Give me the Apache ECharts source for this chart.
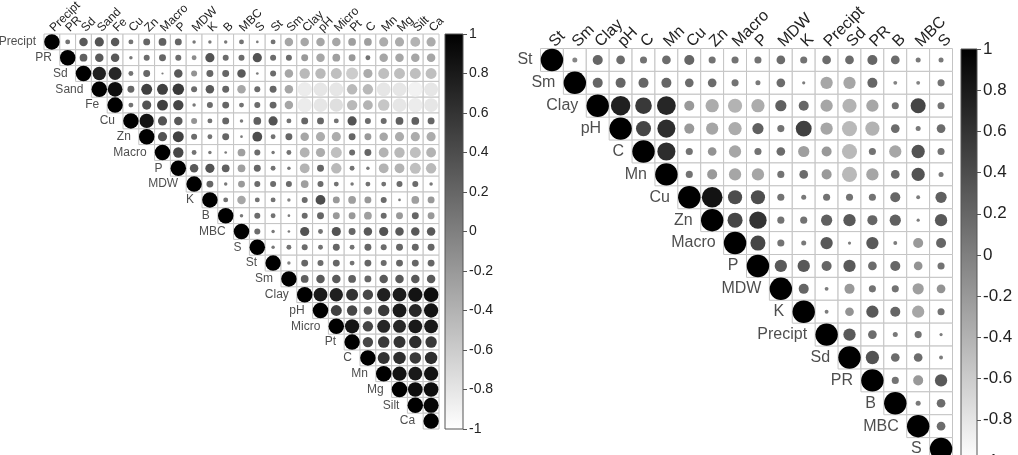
<!DOCTYPE html>
<html>
<head>
<meta charset="utf-8">
<title>Correlation matrices</title>
<script src="https://cdn.jsdelivr.net/npm/echarts@6/dist/echarts.min.js"></script>
<style>
  html, body { margin: 0; padding: 0; background: #fff; }
  #chart { width: 1018px; height: 455px; }
</style>
</head>
<body>
<div id="chart"></div>
<script>
// left matrix: variable order and upper-triangle rows (row i starts at the diagonal)
const leftVars = ['Precipt', 'PR', 'Sd', 'Sand', 'Fe', 'Cu', 'Zn', 'Macro', 'P', 'MDW', 'K', 'B', 'MBC',
  'S', 'St', 'Sm', 'Clay', 'pH', 'Micro', 'Pt', 'C', 'Mn', 'Mg', 'Silt', 'Ca'];
const leftCorr = [
  [1, 0.1, 0.3, 0.35, 0.3, 0.1, 0.2, 0.25, 0.2, 0.05, 0.05, 0.05, 0.1, 0.03, 0.1, -0.3, -0.3, -0.3, -0.3, -0.25, -0.25, -0.35, -0.35, -0.4, -0.35],
  [1, 0.25, 0.3, 0.3, 0.05, 0.15, 0.2, 0.15, -0.1, 0.35, 0.15, 0.15, 0.35, 0.15, 0.15, -0.2, -0.3, -0.25, -0.2, 0.1, -0.3, -0.3, -0.3, -0.3],
  [1, 0.75, 0.7, 0.1, 0.2, 0.02, 0.3, -0.15, 0.2, 0.2, 0.3, 0.03, 0.15, -0.3, -0.45, -0.45, -0.5, -0.6, -0.35, -0.5, -0.5, -0.5, -0.5],
  [1, 0.9, 0.2, 0.5, 0.5, 0.55, 0.15, 0.3, 0.2, -0.3, 0.15, 0.2, -0.3, -0.85, -0.8, -0.8, -0.45, -0.45, -0.8, -0.8, -0.9, -0.8],
  [1, 0.1, 0.35, 0.5, 0.45, 0.05, 0.15, 0.2, 0.1, 0.15, 0.2, -0.3, -0.85, -0.8, -0.75, -0.45, -0.4, -0.55, -0.8, -0.85, -0.8],
  [1, 0.85, 0.35, 0.3, -0.15, 0.1, 0.2, 0.05, 0.25, 0.35, 0.1, 0.2, 0.2, 0.1, 0.35, 0.15, 0.15, 0.25, 0.25, 0.2],
  [1, 0.35, 0.5, 0.15, 0.1, 0.2, 0.03, 0.4, 0.1, 0.2, -0.3, -0.35, -0.35, 0.2, -0.2, -0.3, -0.35, -0.35, -0.35],
  [1, 0.45, 0.1, 0.05, 0.03, -0.25, 0.15, 0.05, 0.1, -0.4, -0.35, -0.5, 0.15, 0.2, -0.4, -0.45, -0.5, -0.4],
  [1, 0.3, 0.35, 0.25, -0.25, 0.2, 0.1, 0.05, -0.4, 0.2, -0.45, 0.1, 0.05, -0.4, -0.4, -0.5, -0.45],
  [1, 0.2, 0.05, -0.2, 0.15, 0.15, 0.15, -0.25, 0.15, 0.1, 0.05, 0.1, 0.1, 0.15, 0.15, 0.05],
  [1, 0.1, -0.3, 0.1, 0.1, -0.05, 0.15, 0.4, -0.2, -0.25, -0.2, 0.15, 0.03, -0.25, -0.2],
  [1, 0.05, 0.15, 0.1, 0.03, 0.15, 0.2, -0.2, -0.2, -0.25, 0.15, -0.2, 0.2, -0.2],
  [1, 0.15, 0.05, 0.03, 0.35, 0.1, 0.35, 0.2, 0.3, 0.35, 0.3, 0.3, 0.3],
  [1, 0.05, 0.1, 0.15, 0.1, 0.2, 0.1, 0.2, 0.15, 0.2, 0.2, 0.2],
  [1, -0.05, 0.2, 0.15, 0.2, 0.1, 0.2, 0.15, 0.2, 0.2, 0.2],
  [1, 0.25, 0.3, 0.3, 0.25, 0.2, 0.3, 0.3, 0.3, 0.3],
  [1, 0.8, 0.75, 0.6, 0.45, 0.75, 0.8, 0.85, 0.9],
  [1, 0.5, 0.45, 0.3, 0.55, 0.8, 0.7, 0.85],
  [1, 0.85, 0.45, 0.7, 0.7, 0.8, 0.8],
  [1, 0.45, 0.55, 0.6, 0.65, 0.55],
  [1, 0.6, 0.65, 0.55, 0.65],
  [1, 0.85, 0.8, 0.85],
  [1, 0.9, 0.9],
  [1, 0.95],
  [1]
];

// right matrix
const rightVars = ['St', 'Sm', 'Clay', 'pH', 'C', 'Mn', 'Cu', 'Zn', 'Macro', 'P', 'MDW', 'K', 'Precipt',
  'Sd', 'PR', 'B', 'MBC', 'S'];
const rightCorr = [
  [1, -0.05, 0.2, 0.15, 0.1, 0.15, 0.2, 0.1, 0.1, 0.1, 0.15, 0.1, 0.15, 0.15, 0.2, 0.15, 0.05, 0.05],
  [1, 0.2, 0.2, 0.2, 0.2, 0.15, 0.15, 0.1, 0.05, 0.15, 0.02, -0.3, -0.3, 0.2, -0.03, -0.03, 0.1],
  [1, 0.75, 0.55, 0.7, -0.2, -0.35, -0.4, -0.35, 0.25, 0.2, -0.3, -0.4, -0.3, 0.1, 0.45, 0.1],
  [1, 0.45, 0.65, -0.2, -0.3, -0.35, 0.25, 0.1, 0.5, -0.3, -0.45, -0.4, 0.15, 0.05, 0.15],
  [1, 0.65, 0.1, -0.15, -0.3, 0.1, 0.15, -0.25, -0.2, -0.45, 0.1, -0.3, 0.35, 0.1],
  [1, 0.1, -0.2, -0.3, -0.3, 0.1, 0.15, -0.2, -0.45, -0.3, 0.15, 0.35, 0.05],
  [1, 0.85, 0.4, 0.4, 0.1, 0.05, 0.1, 0.1, 0.1, 0.2, 0.03, 0.25],
  [1, 0.45, 0.6, 0.1, 0.1, 0.25, 0.3, 0.2, 0.25, 0.02, 0.3],
  [1, 0.45, 0.1, 0.05, 0.3, 0.02, 0.3, 0.03, -0.2, 0.2],
  [1, 0.3, 0.3, 0.2, 0.3, 0.15, 0.2, -0.15, 0.1],
  [1, 0.2, 0.03, -0.2, 0.1, 0.1, -0.25, -0.15],
  [1, 0.03, -0.15, 0.3, 0.2, -0.3, 0.1],
  [1, 0.3, 0.15, 0.05, 0.1, 0.02],
  [1, 0.35, 0.15, 0.15, 0.03],
  [1, 0.1, -0.2, 0.3],
  [1, 0.05, 0.15],
  [1, 0.15],
  [1]
];

// colour legend range and its ticks
const legendRange = [-1, 1];
const legendStep = 0.2;

// layout
const leftBox = { left: 44, top: 34, size: 395 };
const rightBox = { left: 540.5, top: 48.5, size: 412 };
const leftCell = leftBox.size / leftVars.length;
const rightCell = rightBox.size / rightVars.length;
const FONT = '"Liberation Sans", Arial, Helvetica, sans-serif';

function grayOf(r) {
  const v = Math.round(255 * (1 - r) / 2);
  return 'rgb(' + v + ',' + v + ',' + v + ')';
}

function toPoints(corr) {
  const pts = [];
  corr.forEach(function (row, i) {
    row.forEach(function (r, k) {
      pts.push([i + k, i, r]);
    });
  });
  return pts;
}

function renderCell(params, api) {
  const p = api.coord([api.value(0), api.value(1)]);
  const s = api.size([1, 1]);
  return {
    type: 'rect',
    shape: { x: p[0] - s[0] / 2, y: p[1] - s[1] / 2, width: s[0], height: s[1] },
    style: { fill: '#fff', stroke: '#c4c4c4', lineWidth: 1 }
  };
}

function renderLegend(params, api) {
  const top = api.coord([0, api.value(1)]);
  const bottom = api.coord([0, api.value(0)]);
  const w = api.size([1, 0])[0];
  return {
    type: 'rect',
    shape: { x: top[0] - w / 2, y: top[1], width: w, height: bottom[1] - top[1] },
    style: {
      fill: new echarts.graphic.LinearGradient(0, 0, 0, 1, [
        { offset: 0, color: '#000' },
        { offset: 1, color: '#fff' }
      ]),
      stroke: '#555',
      lineWidth: 1
    }
  };
}

function matrixSeries(vars, corr, cell, axisIdx, fontSize) {
  const pts = toPoints(corr);
  return [
    {
      type: 'custom',
      xAxisIndex: axisIdx, yAxisIndex: axisIdx,
      renderItem: renderCell,
      data: pts,
      silent: true,
      z: 1
    },
    {
      type: 'scatter',
      xAxisIndex: axisIdx, yAxisIndex: axisIdx,
      data: pts,
      symbol: 'circle',
      symbolSize: function (val) { return cell * 0.98 * Math.sqrt(Math.abs(val[2])); },
      itemStyle: { color: function (p) { return grayOf(p.value[2]); }, opacity: 1 },
      silent: true,
      z: 2
    },
    {
      type: 'scatter',
      xAxisIndex: axisIdx, yAxisIndex: axisIdx,
      data: vars.map(function (n, i) { return { name: n, value: [i, i] }; }),
      symbolSize: 0,
      label: {
        show: true,
        position: 'left',
        distance: cell / 2 + 8,
        formatter: '{b}',
        fontFamily: FONT,
        fontSize: fontSize,
        color: '#222'
      },
      silent: true,
      z: 3
    }
  ];
}

function matrixX(vars, gridIdx, fontSize) {
  return {
    type: 'category', gridIndex: gridIdx, data: vars, position: 'top',
    boundaryGap: true,
    axisLine: { show: false }, axisTick: { show: false }, splitLine: { show: false },
    axisLabel: {
      interval: 0, rotate: -45, margin: 4,
      fontFamily: FONT, fontSize: fontSize, color: '#222'
    }
  };
}

function matrixY(vars, gridIdx) {
  return { type: 'category', gridIndex: gridIdx, data: vars, inverse: true, show: false };
}

function legendX(gridIdx) {
  return { type: 'category', gridIndex: gridIdx, data: [''], show: false };
}

function legendY(gridIdx, fontSize) {
  return {
    type: 'value', gridIndex: gridIdx, position: 'right',
    min: legendRange[0], max: legendRange[1], interval: legendStep,
    axisLine: { show: false },
    axisTick: { show: true, inside: false, length: 4, lineStyle: { color: '#555' } },
    splitLine: { show: false },
    axisLabel: { margin: 6, fontFamily: FONT, fontSize: fontSize, color: '#222' }
  };
}

const chart = echarts.init(document.getElementById('chart'), null, { renderer: 'canvas' });

const option = {
  backgroundColor: '#fff',
  animation: false,
  grid: [
    { left: leftBox.left, top: leftBox.top, width: leftBox.size, height: leftBox.size, containLabel: false, outerBoundsMode: 'none' },
    { left: 445, top: leftBox.top, width: 18, height: leftBox.size, containLabel: false, outerBoundsMode: 'none' },
    { left: rightBox.left, top: rightBox.top, width: rightBox.size, height: rightBox.size, containLabel: false, outerBoundsMode: 'none' },
    { left: 961, top: 49, width: 16, height: rightBox.size, containLabel: false, outerBoundsMode: 'none' }
  ],
  xAxis: [matrixX(leftVars, 0, 12), legendX(1), matrixX(rightVars, 2, 16), legendX(3)],
  yAxis: [matrixY(leftVars, 0), legendY(1, 14), matrixY(rightVars, 2), legendY(3, 17)],
  series: []
};

option.series = option.series
  .concat(matrixSeries(leftVars, leftCorr, leftCell, 0, 12))
  .concat(matrixSeries(rightVars, rightCorr, rightCell, 2, 16));

// colour bars
option.series.push({
  type: 'custom', xAxisIndex: 1, yAxisIndex: 1,
  renderItem: renderLegend, data: [legendRange], silent: true
});
option.series.push({
  type: 'custom', xAxisIndex: 3, yAxisIndex: 3,
  renderItem: renderLegend, data: [legendRange], silent: true
});

chart.setOption(option);
</script>
</body>
</html>
